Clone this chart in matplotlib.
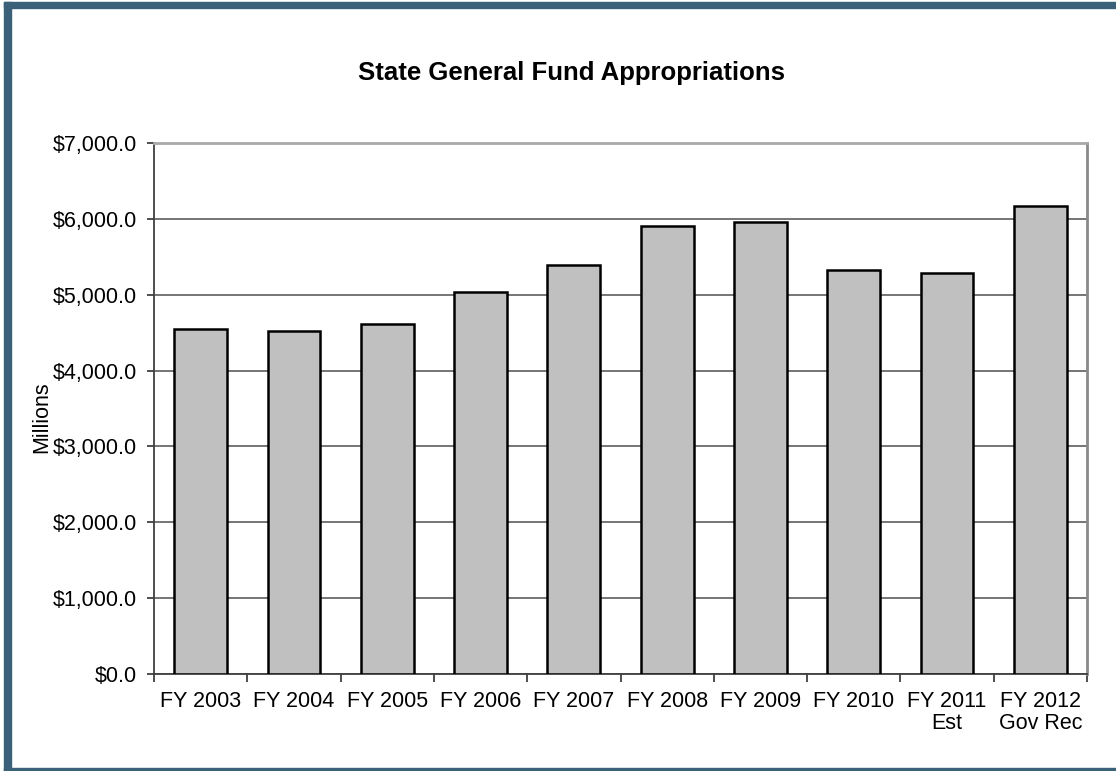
import matplotlib
matplotlib.use("Agg")
import matplotlib.pyplot as plt
import numpy as np
from matplotlib.patches import Rectangle
from matplotlib.ticker import FuncFormatter, FixedLocator

plt.rcParams["font.family"] = ["Liberation Sans", "DejaVu Sans"]

# Data (millions of dollars)
years = ["FY 2003", "FY 2004", "FY 2005", "FY 2006", "FY 2007",
         "FY 2008", "FY 2009", "FY 2010", "FY 2011\nEst", "FY 2012\nGov Rec"]
appropriations = [4544, 4526, 4610, 5036, 5396, 5906, 5962, 5322, 5282, 6169]

W, H = 1116, 771
fig = plt.figure(figsize=(W / 100, H / 100), dpi=100)
ax = fig.add_axes([154 / W, 1 - 674 / H, (1087 - 154) / W, (674 - 143) / H])

x = np.arange(len(years))
ax.bar(x, appropriations, width=0.565, color="#C0C0C0",
       edgecolor="black", linewidth=1.8, zorder=3)

ax.set_xlim(-0.5, len(years) - 0.5)
ax.set_ylim(0, 7000)
ax.set_yticks(np.arange(0, 7001, 1000))
ax.yaxis.set_major_formatter(FuncFormatter(lambda v, _: f"${v:,.1f}"))
ax.grid(axis="y", color="#505050", linewidth=1.1, zorder=1)
ax.set_axisbelow(True)

# category labels at centres, tick marks at category boundaries
ax.set_xticks(x)
ax.set_xticklabels(years, linespacing=1.1)
ax.tick_params(axis="x", which="major", length=0, pad=12, labelsize=15.5)
ax.xaxis.set_minor_locator(FixedLocator(np.arange(-0.5, len(years), 1.0)))
ax.tick_params(axis="x", which="minor", length=6, width=1.2, color="#303030")
ax.tick_params(axis="y", length=5, width=1.2, color="#303030", pad=7,
               labelsize=15.5)

for side in ("left", "bottom"):
    ax.spines[side].set_color("#404040")
    ax.spines[side].set_linewidth(1.3)
ax.spines["top"].set_color("#A8A8A8")
ax.spines["top"].set_linewidth(2)
ax.spines["right"].set_color("#8A8A8A")
ax.spines["right"].set_linewidth(2)

ax.set_ylabel("Millions", fontsize=15.5)
ax.yaxis.set_label_coords(-102 / (1087 - 154), 0.484)

fig.text(572 / W, 1 - 73 / H, "State General Fund Appropriations",
         ha="center", va="center", fontsize=18.5, fontweight="bold")

# dark frame on top, left and bottom edges
frame = "#3A6179"
for (x0, y0, w, h) in [(4, 2, W - 4, 6), (4, 2, 7, H - 2), (4, H - 3, W - 4, 3)]:
    fig.patches.append(Rectangle((x0 / W, 1 - (y0 + h) / H), w / W, h / H,
                                 transform=fig.transFigure, color=frame,
                                 zorder=10))

fig.savefig("out.png", dpi=100)
